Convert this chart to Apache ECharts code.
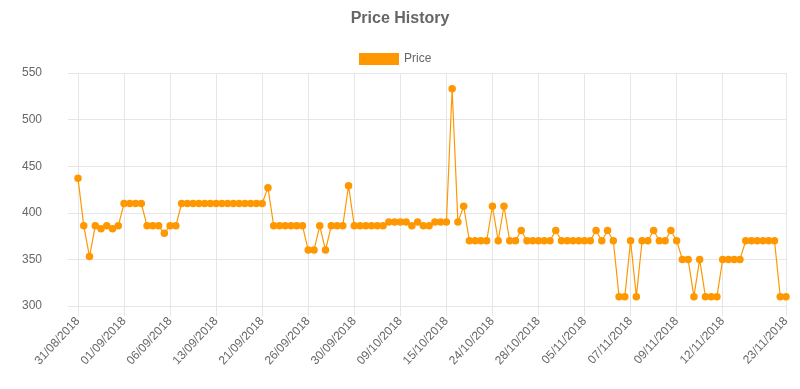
<!DOCTYPE html>
<html>
<head>
<meta charset="utf-8">
<script src="https://cdn.jsdelivr.net/npm/echarts@6/dist/echarts.min.js"></script>
<style>
html,body{margin:0;padding:0;background:#fff;}
#chart{width:800px;height:389px;}
</style>
</head>
<body>
<div id="chart"></div>
<script>
// Tick labels shown on the x axis and the point index where each sits
const tickLabels = ['31/08/2018','01/09/2018','06/09/2018','13/09/2018','21/09/2018','26/09/2018','30/09/2018','09/10/2018','15/10/2018','24/10/2018','28/10/2018','05/11/2018','07/11/2018','09/11/2018','12/11/2018','23/11/2018'];
const tickIndex = [0,8,16,24,32,40,48,56,64,72,80,88,96,104,112,123];

// Price series (one value per observation)
const prices = [
  437, 386, 353, 386, 383, 386, 383, 386,
  410, 410, 410, 410, 386, 386, 386, 378,
  386, 386, 410, 410, 410, 410, 410, 410,
  410, 410, 410, 410, 410, 410, 410, 410,
  410, 427, 386, 386, 386, 386, 386, 386,
  360, 360, 386, 360, 386, 386, 386, 429,
  386, 386, 386, 386, 386, 386, 390, 390,
  390, 390, 386, 390, 386, 386, 390, 390,
  390, 533, 390, 407, 370, 370, 370, 370,
  407, 370, 407, 370, 370, 381, 370, 370,
  370, 370, 370, 381, 370, 370, 370, 370,
  370, 370, 381, 370, 381, 370, 310, 310,
  370, 310, 370, 370, 381, 370, 370, 381,
  370, 350, 350, 310, 350, 310, 310, 310,
  350, 350, 350, 350, 370, 370, 370, 370,
  370, 370, 310, 310
];

const categories = prices.map(function () { return ''; });
tickIndex.forEach(function (idx, k) { categories[idx] = tickLabels[k]; });
const isTick = function (index) { return tickIndex.indexOf(index) !== -1; };

const FONT = "'Liberation Sans', Arial, Helvetica, sans-serif";
const GRID = '#e6e6e6';
const ORANGE = '#ff9800';

const chart = echarts.init(document.getElementById('chart'), null, {renderer: 'canvas'});
chart.setOption({
  animation: false,
  backgroundColor: '#fff',
  title: {
    text: 'Price History',
    left: 'center',
    top: 6,
    textStyle: {fontFamily: FONT, fontSize: 16, fontWeight: 'bold', color: '#666'}
  },
  legend: {
    data: ['Price'],
    left: 354,
    top: 48,
    icon: 'rect',
    itemWidth: 40,
    itemHeight: 12,
    textStyle: {fontFamily: FONT, fontSize: 12, color: '#666'}
  },
  grid: {left: 78, right: 14, top: 73, bottom: 83, containLabel: false},
  xAxis: {
    type: 'category',
    data: categories,
    boundaryGap: false,
    axisLine: {show: true, lineStyle: {color: GRID}},
    axisTick: {show: true, length: 10, interval: isTick, lineStyle: {color: GRID}},
    splitLine: {show: true, interval: isTick, lineStyle: {color: GRID}},
    axisLabel: {
      interval: isTick,
      rotate: 47,
      margin: 13,
      fontFamily: FONT,
      fontSize: 12,
      color: '#666'
    }
  },
  yAxis: {
    type: 'value',
    min: 300,
    max: 550,
    interval: 50,
    axisLine: {show: false},
    axisTick: {show: true, length: 10, lineStyle: {color: GRID}},
    splitLine: {show: true, lineStyle: {color: GRID}},
    axisLabel: {margin: 36, fontFamily: FONT, fontSize: 12, color: '#666'}
  },
  series: [{
    name: 'Price',
    type: 'line',
    data: prices,
    symbol: 'circle',
    symbolSize: 7.5,
    showAllSymbol: true,
    itemStyle: {color: ORANGE},
    lineStyle: {color: ORANGE, width: 1.2}
  }]
});
</script>
</body>
</html>
